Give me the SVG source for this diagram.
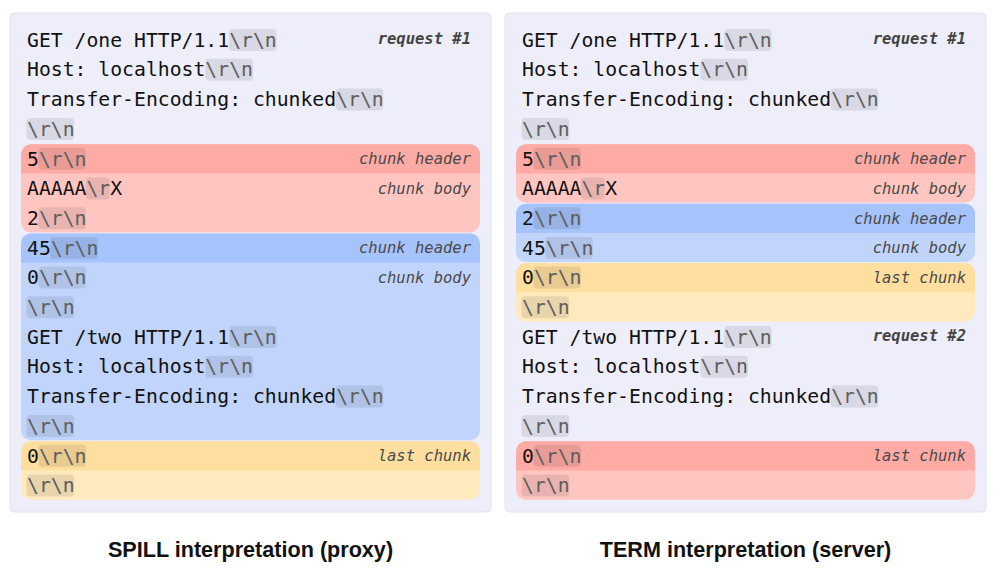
<svg xmlns="http://www.w3.org/2000/svg" width="1000" height="568" viewBox="0 0 1000 568">
<style>
.bg{fill:#ffffff}
.panel{fill:#eeeefb;stroke:#e3e3f1;stroke-width:1}
.t{font-family:"DejaVu Sans Mono","Liberation Mono",monospace;font-size:19.75px;fill:#111}
.e{fill:#5e5e5e}
.hl{fill:#000;fill-opacity:0.085}
.lb{font-family:"DejaVu Sans Mono","Liberation Mono",monospace;font-size:15.5px;font-style:italic;fill:#4a4a4a;text-anchor:end}
.rq{font-weight:bold;fill:#444}
.title{font-family:"Liberation Sans",Arial,sans-serif;font-size:21.6px;font-weight:bold;fill:#111;text-anchor:middle}
.redB{fill:#ffc6c1}.redH{fill:#ffaba5}
.bluB{fill:#c1d5fc}.bluH{fill:#a6c3fb}
.yelB{fill:#ffeabd}.yelH{fill:#ffdf9f}
</style>
<rect class="bg" x="0" y="0" width="1000" height="568"/>

<g id="panel-spill">
<rect class="panel" x="10" y="13" width="481" height="499" rx="4"/>
</g>
<g id="panel-term">
<rect class="panel" x="505" y="13" width="481" height="499" rx="4"/>
</g>

<!-- Left blocks -->
<g id="spill-red">
<rect class="redB" x="21" y="144.3" width="459" height="88.1" rx="10"/>
<path class="redH" d="M21 173.5 V154.3 A10 10 0 0 1 31 144.3 H470 A10 10 0 0 1 480 154.3 V173.5 Z"/>
</g>
<g id="spill-blue">
<rect class="bluB" x="21" y="233.4" width="459" height="206.9" rx="10"/>
<path class="bluH" d="M21 262.6 V243.4 A10 10 0 0 1 31 233.4 H470 A10 10 0 0 1 480 243.4 V262.6 Z"/>
</g>
<g id="spill-yellow">
<rect class="yelB" x="21" y="441.3" width="459" height="58.4" rx="10"/>
<path class="yelH" d="M21 470.5 V451.3 A10 10 0 0 1 31 441.3 H470 A10 10 0 0 1 480 451.3 V470.5 Z"/>
</g>

<!-- Right blocks -->
<g id="term-red1">
<rect class="redB" x="516" y="144.3" width="459" height="58.4" rx="10"/>
<path class="redH" d="M516 173.5 V154.3 A10 10 0 0 1 526 144.3 H965 A10 10 0 0 1 975 154.3 V173.5 Z"/>
</g>
<g id="term-blue">
<rect class="bluB" x="516" y="203.7" width="459" height="58.4" rx="10"/>
<path class="bluH" d="M516 232.9 V213.7 A10 10 0 0 1 526 203.7 H965 A10 10 0 0 1 975 213.7 V232.9 Z"/>
</g>
<g id="term-yellow">
<rect class="yelB" x="516" y="263.1" width="459" height="58.4" rx="10"/>
<path class="yelH" d="M516 292.3 V273.1 A10 10 0 0 1 526 263.1 H965 A10 10 0 0 1 975 273.1 V292.3 Z"/>
</g>
<g id="term-red2">
<rect class="redB" x="516" y="441.3" width="459" height="58.4" rx="10"/>
<path class="redH" d="M516 470.5 V451.3 A10 10 0 0 1 526 441.3 H965 A10 10 0 0 1 975 451.3 V470.5 Z"/>
</g>

<!-- Left text -->
<g id="spill-text">
<rect class="hl" x="229.1" y="29" width="47.6" height="22" rx="4"/>
<text class="t" x="27" y="46.7">GET /one HTTP/1.1<tspan class="e">\r\n</tspan></text>
<rect class="hl" x="205.4" y="58.7" width="47.6" height="22" rx="4"/>
<text class="t" x="27" y="76.4">Host: localhost<tspan class="e">\r\n</tspan></text>
<rect class="hl" x="335.6" y="88.4" width="47.6" height="22" rx="4"/>
<text class="t" x="27" y="106.1">Transfer-Encoding: chunked<tspan class="e">\r\n</tspan></text>
<rect class="hl" x="26.5" y="118.1" width="47.6" height="22" rx="4"/>
<text class="t" x="27" y="135.8"><tspan class="e">\r\n</tspan></text>
<rect class="hl" x="38.4" y="147.8" width="47.6" height="22" rx="4"/>
<text class="t" x="27" y="165.5">5<tspan class="e">\r\n</tspan></text>
<rect class="hl" x="85.9" y="177.5" width="23.8" height="22" rx="4"/>
<text class="t" x="27" y="195.2">AAAAA<tspan class="e">\r</tspan>X</text>
<rect class="hl" x="38.4" y="207.2" width="47.6" height="22" rx="4"/>
<text class="t" x="27" y="224.9">2<tspan class="e">\r\n</tspan></text>
<rect class="hl" x="50.3" y="236.9" width="47.6" height="22" rx="4"/>
<text class="t" x="27" y="254.6">45<tspan class="e">\r\n</tspan></text>
<rect class="hl" x="38.4" y="266.6" width="47.6" height="22" rx="4"/>
<text class="t" x="27" y="284.3">0<tspan class="e">\r\n</tspan></text>
<rect class="hl" x="26.5" y="296.3" width="47.6" height="22" rx="4"/>
<text class="t" x="27" y="314"><tspan class="e">\r\n</tspan></text>
<rect class="hl" x="229.1" y="326" width="47.6" height="22" rx="4"/>
<text class="t" x="27" y="343.7">GET /two HTTP/1.1<tspan class="e">\r\n</tspan></text>
<rect class="hl" x="205.4" y="355.7" width="47.6" height="22" rx="4"/>
<text class="t" x="27" y="373.4">Host: localhost<tspan class="e">\r\n</tspan></text>
<rect class="hl" x="335.6" y="385.4" width="47.6" height="22" rx="4"/>
<text class="t" x="27" y="403.1">Transfer-Encoding: chunked<tspan class="e">\r\n</tspan></text>
<rect class="hl" x="26.5" y="415.1" width="47.6" height="22" rx="4"/>
<text class="t" x="27" y="432.8"><tspan class="e">\r\n</tspan></text>
<rect class="hl" x="38.4" y="444.8" width="47.6" height="22" rx="4"/>
<text class="t" x="27" y="462.5">0<tspan class="e">\r\n</tspan></text>
<rect class="hl" x="26.5" y="474.5" width="47.6" height="22" rx="4"/>
<text class="t" x="27" y="492.2"><tspan class="e">\r\n</tspan></text>

<text class="lb rq" x="471" y="44">request #1</text>
<text class="lb" x="471" y="164">chunk header</text>
<text class="lb" x="471" y="194">chunk body</text>
<text class="lb" x="471" y="253">chunk header</text>
<text class="lb" x="471" y="283">chunk body</text>
<text class="lb" x="471" y="461">last chunk</text>
</g>

<!-- Right text -->
<g id="term-text">
<rect class="hl" x="724.1" y="29" width="47.6" height="22" rx="4"/>
<text class="t" x="522" y="46.7">GET /one HTTP/1.1<tspan class="e">\r\n</tspan></text>
<rect class="hl" x="700.4" y="58.7" width="47.6" height="22" rx="4"/>
<text class="t" x="522" y="76.4">Host: localhost<tspan class="e">\r\n</tspan></text>
<rect class="hl" x="830.6" y="88.4" width="47.6" height="22" rx="4"/>
<text class="t" x="522" y="106.1">Transfer-Encoding: chunked<tspan class="e">\r\n</tspan></text>
<rect class="hl" x="521.5" y="118.1" width="47.6" height="22" rx="4"/>
<text class="t" x="522" y="135.8"><tspan class="e">\r\n</tspan></text>
<rect class="hl" x="533.4" y="147.8" width="47.6" height="22" rx="4"/>
<text class="t" x="522" y="165.5">5<tspan class="e">\r\n</tspan></text>
<rect class="hl" x="580.9" y="177.5" width="23.8" height="22" rx="4"/>
<text class="t" x="522" y="195.2">AAAAA<tspan class="e">\r</tspan>X</text>
<rect class="hl" x="533.4" y="207.2" width="47.6" height="22" rx="4"/>
<text class="t" x="522" y="224.9">2<tspan class="e">\r\n</tspan></text>
<rect class="hl" x="545.3" y="236.9" width="47.6" height="22" rx="4"/>
<text class="t" x="522" y="254.6">45<tspan class="e">\r\n</tspan></text>
<rect class="hl" x="533.4" y="266.6" width="47.6" height="22" rx="4"/>
<text class="t" x="522" y="284.3">0<tspan class="e">\r\n</tspan></text>
<rect class="hl" x="521.5" y="296.3" width="47.6" height="22" rx="4"/>
<text class="t" x="522" y="314"><tspan class="e">\r\n</tspan></text>
<rect class="hl" x="724.1" y="326" width="47.6" height="22" rx="4"/>
<text class="t" x="522" y="343.7">GET /two HTTP/1.1<tspan class="e">\r\n</tspan></text>
<rect class="hl" x="700.4" y="355.7" width="47.6" height="22" rx="4"/>
<text class="t" x="522" y="373.4">Host: localhost<tspan class="e">\r\n</tspan></text>
<rect class="hl" x="830.6" y="385.4" width="47.6" height="22" rx="4"/>
<text class="t" x="522" y="403.1">Transfer-Encoding: chunked<tspan class="e">\r\n</tspan></text>
<rect class="hl" x="521.5" y="415.1" width="47.6" height="22" rx="4"/>
<text class="t" x="522" y="432.8"><tspan class="e">\r\n</tspan></text>
<rect class="hl" x="533.4" y="444.8" width="47.6" height="22" rx="4"/>
<text class="t" x="522" y="462.5">0<tspan class="e">\r\n</tspan></text>
<rect class="hl" x="521.5" y="474.5" width="47.6" height="22" rx="4"/>
<text class="t" x="522" y="492.2"><tspan class="e">\r\n</tspan></text>

<text class="lb rq" x="966" y="44">request #1</text>
<text class="lb" x="966" y="164">chunk header</text>
<text class="lb" x="966" y="194">chunk body</text>
<text class="lb" x="966" y="224">chunk header</text>
<text class="lb" x="966" y="253">chunk body</text>
<text class="lb" x="966" y="283">last chunk</text>
<text class="lb rq" x="966" y="341">request #2</text>
<text class="lb" x="966" y="461">last chunk</text>
</g>

<g id="titles">
<text class="title" x="250.5" y="556.5">SPILL interpretation (proxy)</text>
<text class="title" x="745.5" y="556.5">TERM interpretation (server)</text>
</g>
<g id="connectors"/>
</svg>
